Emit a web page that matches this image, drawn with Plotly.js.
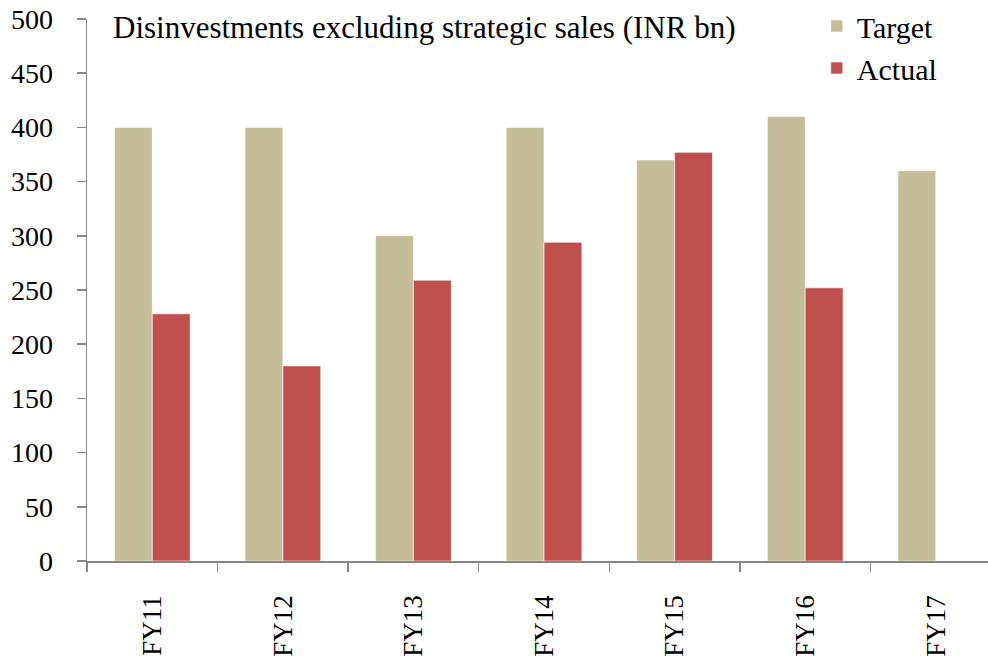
<!DOCTYPE html>
<html>
<head>
<meta charset="utf-8">
<script src="https://cdn.plot.ly/plotly-3.0.1.min.js"></script>
<style>html,body{margin:0;padding:0;background:#fff;}#chart{width:988px;height:659px;}</style>
</head>
<body>
<div id="chart"></div>
<script>
var categories = ["FY11", "FY12", "FY13", "FY14", "FY15", "FY16", "FY17"];
var targetValues = [400, 400, 300, 400, 370, 410, 360];
var actualValues = [228, 180, 259, 294, 377, 252, null];
var yTicks = [0, 50, 100, 150, 200, 250, 300, 350, 400, 450, 500];
var chartTitle = "Disinvestments excluding strategic sales (INR bn)";

var serif = "Liberation Serif, Times New Roman, serif";
var traces = [
  {type: "bar", name: "Target", x: categories, y: targetValues,
   marker: {color: "#C4BD97", line: {color: "rgba(255,255,255,0.6)", width: 1}}},
  {type: "bar", name: "Actual", x: categories, y: actualValues,
   marker: {color: "#C0504D", line: {color: "rgba(255,255,255,0.6)", width: 1}}}
];
var layout = {
  width: 988, height: 659,
  margin: {l: 87, r: 0, t: 19, b: 98},
  paper_bgcolor: "#fff", plot_bgcolor: "#fff",
  barmode: "group", bargap: 0.42, bargroupgap: 0,
  font: {family: serif, size: 27, color: "#000"},
  showlegend: true,
  legend: {x: 0.81, y: 1.035, xanchor: "left", yanchor: "top", bgcolor: "rgba(0,0,0,0)",
           font: {family: serif, size: 30, color: "#000"}, tracegroupgap: 0, itemwidth: 30},
  xaxis: {type: "category", range: [-0.5, 6.4], tickson: "boundaries",
          ticks: "outside", ticklen: 9, tickcolor: "#868686", tickwidth: 1.5,
          showline: true, linecolor: "#868686", linewidth: 1.5, showgrid: false,
          tickangle: -90, ticklabelstandoff: 22, tickfont: {family: serif, size: 27, color: "#000"}},
  yaxis: {range: [0, 500], tickvals: yTicks, ticks: "outside", ticklen: 9,
          tickcolor: "#868686", tickwidth: 1.5, showline: true, linecolor: "#868686",
          linewidth: 1.5, showgrid: false, zeroline: false, ticklabelstandoff: 18,
          tickfont: {family: serif, size: 28, color: "#000"}},
  annotations: [{text: chartTitle, xref: "paper", yref: "paper", x: 0.027, y: 1.02,
                 xanchor: "left", yanchor: "top", showarrow: false,
                 font: {family: serif, size: 31, color: "#000"}}]
};
Plotly.newPlot("chart", traces, layout, {displayModeBar: false, staticPlot: true});
</script>
</body>
</html>
